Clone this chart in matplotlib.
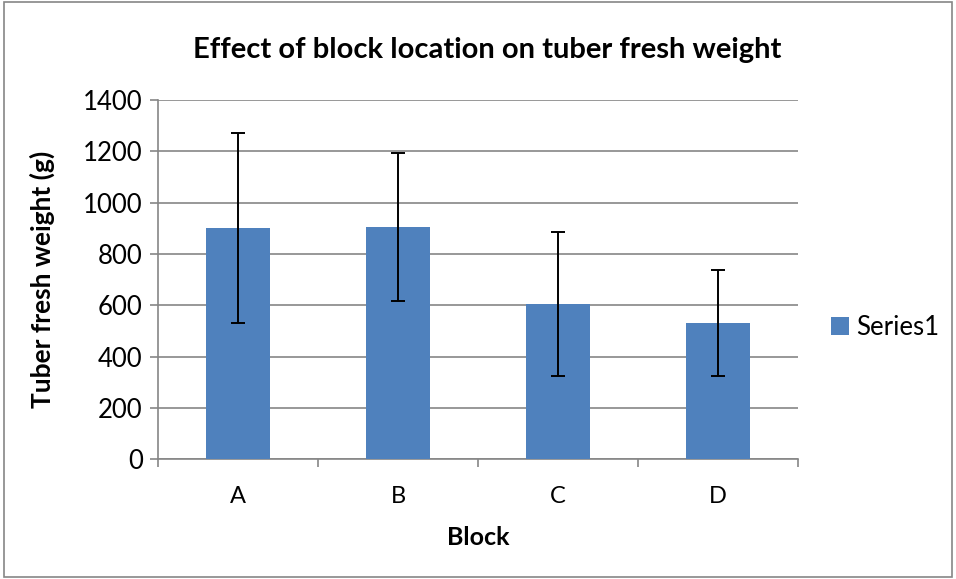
import numpy as np
import matplotlib.pyplot as plt
from matplotlib.ticker import FixedLocator

# values
blocks = ["A", "B", "C", "D"]
fresh_weight = [900, 905, 604, 530]
weight_err = [370, 290, 280, 207]

BAR_COLOR = "#4F81BD"
GRID_COLOR = "#868686"

plt.rcParams["font.family"] = ["Lato", "DejaVu Sans"]

fig = plt.figure(figsize=(9.56, 5.79), dpi=100)
ax = fig.add_axes([0.1653, 0.2067, 0.8347 - 0.1653, 0.8273 - 0.2067])

x = np.arange(len(blocks))
ax.bar(x, fresh_weight, width=0.4, color=BAR_COLOR, label="Series1", zorder=3)
ax.errorbar(x, fresh_weight, yerr=weight_err, fmt="none", ecolor="black",
            elinewidth=1.4, capsize=5, capthick=1.4, zorder=4)

ax.set_xlim(-0.5, len(blocks) - 0.5)
ax.set_ylim(0, 1400)
ax.set_yticks(np.arange(0, 1401, 200))
ax.yaxis.grid(True, color=GRID_COLOR, linewidth=1.2, zorder=0)
ax.set_axisbelow(True)

# category boundary ticks, labels centred under bars
ax.xaxis.set_major_locator(FixedLocator(np.arange(-0.5, len(blocks), 1.0)))
ax.xaxis.set_minor_locator(FixedLocator(x))
ax.set_xticklabels([])
ax.set_xticklabels(blocks, minor=True)
ax.tick_params(axis="x", which="major", length=6, color=GRID_COLOR, width=1.2)
ax.tick_params(axis="x", which="minor", length=0, labelsize=17, pad=19)
ax.tick_params(axis="y", length=6, color=GRID_COLOR, width=1.2, labelsize=18.5, pad=5)

for side in ("top", "right"):
    ax.spines[side].set_visible(False)
for side in ("left", "bottom"):
    ax.spines[side].set_color(GRID_COLOR)
    ax.spines[side].set_linewidth(1.2)

ax.set_title("Effect of block location on tuber fresh weight",
             fontsize=21, fontweight="bold", pad=30, x=0.515)
ax.set_xlabel("Block", fontsize=18, fontweight="bold", labelpad=14)
ax.set_ylabel("Tuber fresh weight (g)", fontsize=19, fontweight="bold", labelpad=20)

ax.legend(loc="center left", bbox_to_anchor=(1.035, 0.368), frameon=False,
          fontsize=18.5, handlelength=0.7, handleheight=0.7, handletextpad=0.3,
          borderaxespad=0)

# chart border
fig.patches.append(plt.Rectangle((0.004, 0.004), 0.992, 0.992, transform=fig.transFigure,
                                 fill=False, edgecolor=GRID_COLOR, linewidth=1.2))

fig.savefig("out.png", dpi=100)
